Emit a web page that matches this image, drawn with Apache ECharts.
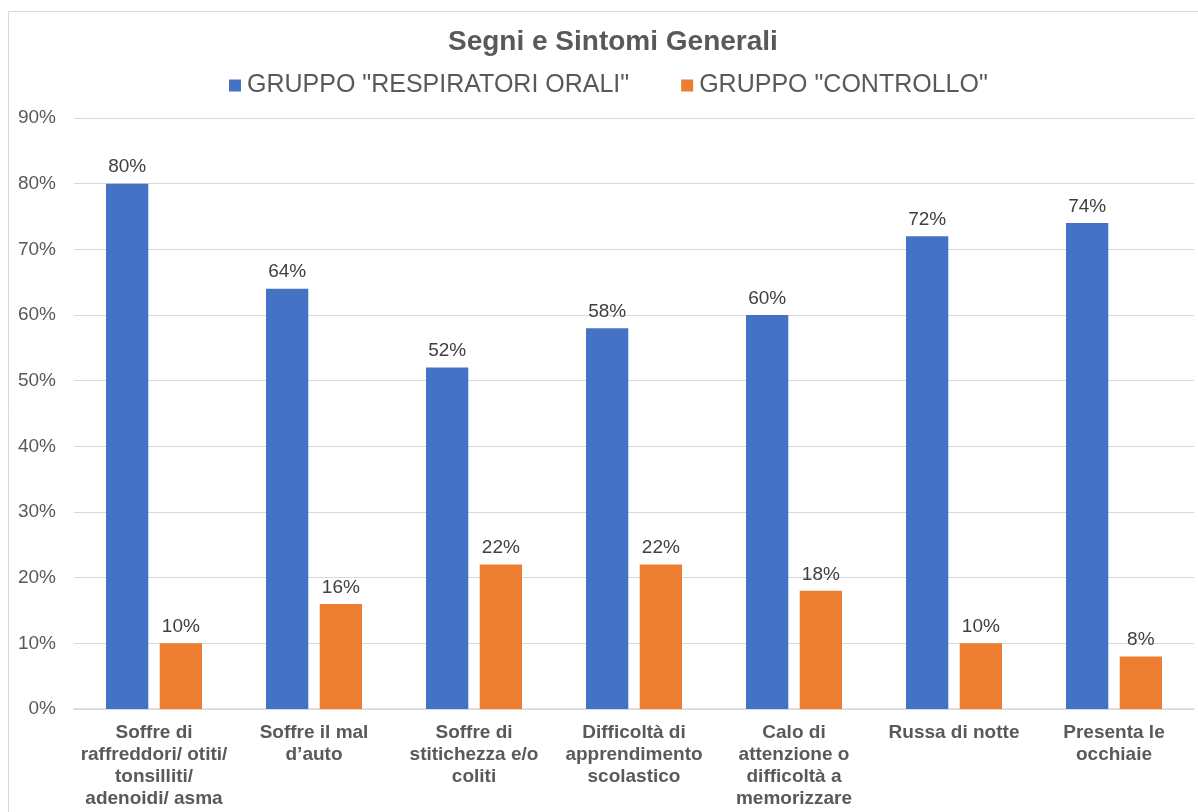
<!DOCTYPE html>
<html><head><meta charset="utf-8">
<script src="https://cdn.jsdelivr.net/npm/echarts@6/dist/echarts.min.js"></script>
<style>html,body{margin:0;padding:0;background:#fff}#c{width:1198px;height:812px}</style>
</head><body><div id="c"></div>
<script>
const categories = [
  "Soffre di\nraffreddori/ otiti/\ntonsilliti/\nadenoidi/ asma",
  "Soffre il mal\nd\u2019auto",
  "Soffre di\nstitichezza e/o\ncoliti",
  "Difficolt\u00e0 di\napprendimento\nscolastico",
  "Calo di\nattenzione o\ndifficolt\u00e0 a\nmemorizzare",
  "Russa di notte",
  "Presenta le\nocchiaie"
];
const respiratoriOrali = [80, 64, 52, 58, 60, 72, 74];
const controllo = [10, 16, 22, 22, 18, 10, 8];
const seriesNames = ['GRUPPO "RESPIRATORI ORALI"', 'GRUPPO "CONTROLLO"'];

const chart = echarts.init(document.getElementById('c'), null, {renderer: 'canvas'});
const font = 'Liberation Sans, Arial, sans-serif';
const gray = '#595959';
chart.setOption({
  animation: false,
  backgroundColor: '#fff',
  graphic: [{type: 'rect', shape: {x: 8.5, y: 11.5, width: 1200, height: 820}, style: {fill: 'none', stroke: '#d9d9d9', lineWidth: 1}}],
  title: {text: 'Segni e Sintomi Generali', left: 443, top: 23,
    textStyle: {fontFamily: font, fontSize: 28, fontWeight: 'bold', color: gray}},
  legend: {top: 68, left: 224, itemWidth: 12, itemHeight: 12, itemGap: 52,
    icon: 'rect',
    textStyle: {fontFamily: font, fontSize: 25, color: gray, padding: [0, 0, 0, 1]}},
  grid: {left: 74, right: 4, top: 118, bottom: 103, containLabel: false},
  xAxis: {type: 'category', data: categories,
    axisLine: {lineStyle: {color: '#d9d9d9', width: 1.5}}, axisTick: {show: false},
    axisLabel: {interval: 0, fontFamily: font, fontSize: 19, fontWeight: 'bold', color: gray, lineHeight: 22, margin: 13}},
  yAxis: {type: 'value', min: 0, max: 90, interval: 10,
    axisLabel: {formatter: '{value}%', fontFamily: font, fontSize: 19, color: gray, margin: 18},
    splitLine: {lineStyle: {color: '#d9d9d9', width: 1.2}}},
  series: [
    {name: seriesNames[0], type: 'bar', data: respiratoriOrali, barGap: '27%', barCategoryGap: '40%',
      itemStyle: {color: '#4472C4'},
      label: {show: true, position: 'top', formatter: '{c}%', fontFamily: font, fontSize: 19, color: '#404040', distance: 7}},
    {name: seriesNames[1], type: 'bar', data: controllo,
      itemStyle: {color: '#ED7D31'},
      label: {show: true, position: 'top', formatter: '{c}%', fontFamily: font, fontSize: 19, color: '#404040', distance: 7}}
  ]
});
</script></body></html>
